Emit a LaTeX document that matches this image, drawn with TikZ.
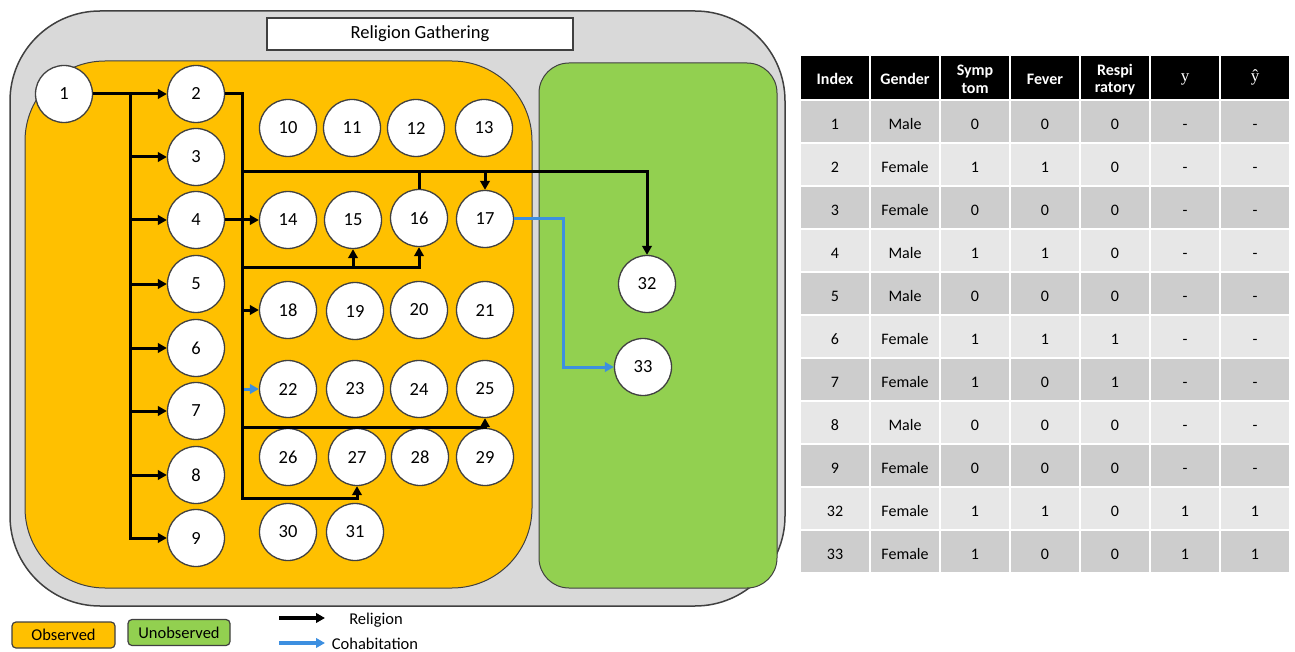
\documentclass[tikz,border=0pt]{standalone}
\usepackage{fontspec}
\setmainfont{Carlito}
\newfontfamily\varfont{Liberation Serif}
\usetikzlibrary{arrows.meta,calc}

\definecolor{obsfill}{HTML}{FFC000}
\definecolor{unobsfill}{HTML}{92D050}
\definecolor{groupfill}{HTML}{D9D9D9}
\definecolor{edgegray}{HTML}{404040}
\definecolor{cohab}{HTML}{3D8FE0}
\definecolor{rowdark}{HTML}{CDCDCD}
\definecolor{rowlight}{HTML}{E7E7E7}

\begin{document}
\begin{tikzpicture}[x=1pt,y=-1pt,
  person/.style={circle,draw=edgegray,fill=white,line width=1.3pt,
    minimum size=57pt,inner sep=0pt,font=\fontsize{18.5}{20}\selectfont},
  rel/.style={line width=3pt,black},
  relarrow/.style={rel,-{Triangle[length=9pt,width=9.5pt]}},
  coh/.style={line width=3pt,cohab,-{Triangle[length=9pt,width=9.5pt]}},
  cell/.style={inner sep=0pt,anchor=base,font=\fontsize{16}{17}\selectfont,text=black},
  headcell/.style={inner sep=0pt,align=center,text=white,
    font=\fontsize{16}{17.5}\selectfont\bfseries},
  legendbox/.style={draw=edgegray,line width=1.2pt,rounded corners=4pt,
    minimum height=26pt,inner sep=0pt,font=\fontsize{16.5}{18}\selectfont},
  legendtext/.style={inner sep=0pt,anchor=base,font=\fontsize{16.5}{18}\selectfont}
]
\useasboundingbox (0,0) rectangle (1295,652);

% group containers
\draw[draw=edgegray,fill=groupfill,line width=1.5pt,rounded corners=90pt]
  (10,11) rectangle (785,606);
\draw[draw=edgegray,fill=obsfill,line width=1pt,rounded corners=80pt]
  (25,61) rectangle (532,588);
\draw[draw=edgegray,fill=unobsfill,line width=1pt,rounded corners=30pt]
  (539,63) rectangle (777,588);

\node[draw=edgegray,fill=white,line width=1.2pt,minimum width=306pt,
  minimum height=32pt,inner sep=0pt,font=\fontsize{18.5}{20}\selectfont]
  (title) at (420,34) {Religion Gathering};

% individuals
\node[person] (c1) at (64,94) {1};
\node[person] (c2) at (196,94) {2};
\node[person] (c3) at (196,157) {3};
\node[person] (c4) at (196,220) {4};
\node[person] (c5) at (196,284) {5};
\node[person] (c6) at (196,348) {6};
\node[person] (c7) at (196,411) {7};
\node[person] (c8) at (196,475) {8};
\node[person] (c9) at (196,538) {9};
\node[person] (c10) at (288,128) {10};
\node[person] (c11) at (352,128) {11};
\node[person] (c12) at (416,128) {12};
\node[person] (c13) at (484,128) {13};
\node[person] (c14) at (288,220) {14};
\node[person] (c15) at (353,220) {15};
\node[person] (c16) at (419,218) {16};
\node[person] (c17) at (485,219) {17};
\node[person] (c18) at (288,310) {18};
\node[person] (c19) at (355,311) {19};
\node[person] (c20) at (419,310) {20};
\node[person] (c21) at (485,310) {21};
\node[person] (c22) at (288,389) {22};
\node[person] (c23) at (355,389) {23};
\node[person] (c24) at (419,389) {24};
\node[person] (c25) at (485,389) {25};
\node[person] (c26) at (288,457) {26};
\node[person] (c27) at (357,457) {27};
\node[person] (c28) at (420,457) {28};
\node[person] (c29) at (485,457) {29};
\node[person] (c30) at (288,532) {30};
\node[person] (c31) at (355,532) {31};
\node[person] (c32) at (647,284) {32};
\node[person] (c33) at (643,367) {33};

% junction points of the religion links
\coordinate (ta) at (130,94);
\coordinate (ub) at (242,498);
\coordinate (uc) at (242,172);
\coordinate (ud) at (242,268);
\coordinate (ue) at (242,427);
\coordinate (bk) at (563,367);

% religion links from 1
\draw[relarrow] (c1.east) -- (c2.west);
\draw[relarrow] (ta) |- (c9.west);
\foreach \n in {3,...,8}
  \draw[relarrow] (ta |- c\n) -- (c\n.west);

% religion links from 2
\draw[relarrow] (c2.east) -| (ub) -| (c27.south);
\draw[relarrow] (uc) -| (c32.north);
\draw[rel] (c16.north) -- (c16.north |- uc);
\draw[relarrow] (c17.north |- uc) -- (c17.north);
\draw[relarrow] (c4.east) -- (c14.west);
\draw[relarrow] (ud) -| (c16.south);
\draw[relarrow] (c15.south |- ud) -- (c15.south);
\draw[relarrow] (ub |- c18) -- (c18.west);
\draw[relarrow] (ue) -| (c25.south);

% cohabitation links
\draw[coh] ($(ub |- c22)+(2,0)$) -- (c22.west);
\draw[coh] (c17.east) -| (bk) -- (c33.west);

% legend
\node[legendbox,fill=obsfill,minimum width=103pt] (lobs) at (63.5,635) {Observed};
\node[legendbox,fill=unobsfill,minimum width=102pt] (lunobs) at (179,632.5) {Unobserved};
\coordinate (lr1) at (279,618);
\coordinate (lr2) at (325,618);
\coordinate (lc1) at (279,643);
\coordinate (lc2) at (325,643);
\draw[relarrow,line width=4pt] (lr1) -- (lr2);
\draw[coh,line width=4pt] (lc1) -- (lc2);
\node[legendtext] (lrel) at (376,624.5) {Religion};
\node[legendtext] (lcoh) at (375,649) {Cohabitation};

% attribute table: header
\foreach \c in {0,...,6}
  \fill[black] (800+70*\c+1,56) rectangle (800+70*\c+69,99);
\node[headcell] (h0) at (835,79) {Index};
\node[headcell] (h1) at (905,79) {Gender};
\node[headcell] (h2) at (975,79.5) {Symp\\tom};
\node[headcell] (h3) at (1045,79) {Fever};
\node[headcell] (h4) at (1115,79.5) {Respi\\ratory};
\node[inner sep=0pt,anchor=base,text=white,font=\varfont\fontsize{17}{18}\selectfont] (h5) at (1185,82) {y};
\node[inner sep=0pt,anchor=base,text=white,font=\varfont\fontsize{17}{18}\selectfont] (h6) at (1255,82) {ŷ};

% attribute table: rows
\foreach \i/\g/\s/\f/\p/\t/\th [count=\k from 0] in {
    1/Male/0/0/0/-/-,
    2/Female/1/1/0/-/-,
    3/Female/0/0/0/-/-,
    4/Male/1/1/0/-/-,
    5/Male/0/0/0/-/-,
    6/Female/1/1/1/-/-,
    7/Female/1/0/1/-/-,
    8/Male/0/0/0/-/-,
    9/Female/0/0/0/-/-,
    32/Female/1/1/0/1/1,
    33/Female/1/0/0/1/1}{
  \pgfmathsetmacro\rowtop{100+43*\k}
  \ifodd\k \def\rowcol{rowlight}\else\def\rowcol{rowdark}\fi
  \foreach \v [count=\c from 0] in {\i,\g,\s,\f,\p,\t,\th}{
    \fill[\rowcol] (800+70*\c+1,\rowtop+1) rectangle (800+70*\c+69,\rowtop+42);
    \node[cell] (r\k c\c) at (835+70*\c,\rowtop+29.5) {\v};
  }
}
\end{tikzpicture}
\end{document}
